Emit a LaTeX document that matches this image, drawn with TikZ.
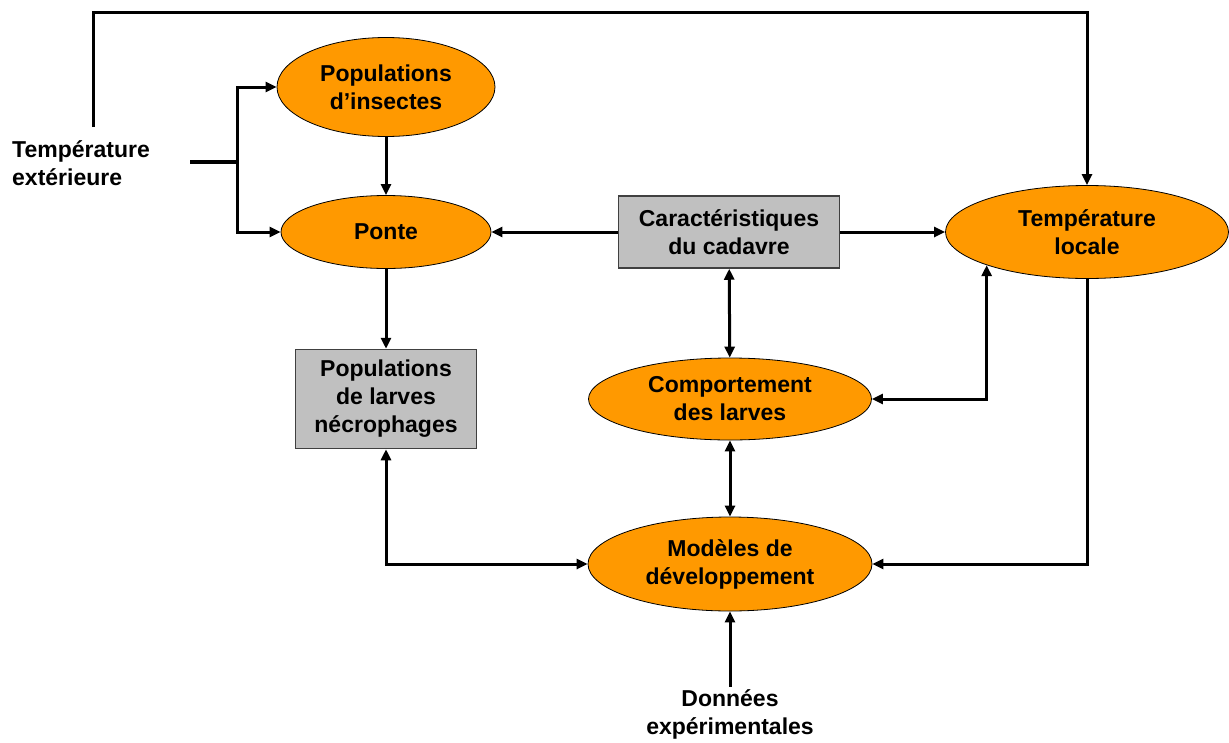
\documentclass[tikz,border=0pt]{standalone}
\usepackage{fontspec}
\setmainfont{Liberation Sans}
\usetikzlibrary{shapes.geometric,arrows.meta}
\definecolor{orangebulle}{RGB}{255,153,0}
\definecolor{grisboite}{RGB}{192,192,192}
\tikzstyle{bulle} = [ellipse,
inner sep=0pt,
text centered,
align=center,
draw=black,
line width=0.8pt,
fill=orangebulle,
font=\bfseries\fontsize{23}{28}\selectfont]
\tikzstyle{boite} = [rectangle,
inner sep=0pt,
text centered,
align=center,
draw=black!75,
line width=1.5pt,
fill=grisboite,
font=\bfseries\fontsize{23}{28}\selectfont]
\tikzstyle{texte} = [inner sep=2pt, font=\bfseries\fontsize{23}{28}\selectfont]
\tikzstyle{arrow} = [line width=3pt,-{Triangle[length=11pt,width=10pt]}]
\tikzstyle{dblarrow} = [line width=3pt,{Triangle[length=11pt,width=10pt]}-{Triangle[length=11pt,width=10pt]}]
\tikzstyle{trait} = [line width=4pt]

\begin{document}
\begin{tikzpicture}[x=1pt,y=-1pt]
				\useasboundingbox (0,0) rectangle (1229,742);

				\node[bulle, minimum width=218pt, minimum height=99pt] (popins) at (386,87) {Populations\\d’insectes};
				\node[bulle, minimum width=210pt, minimum height=73pt] (ponte) at (386,232) {Ponte};
				\node[boite, minimum width=181pt, minimum height=99pt] (larves) at (386,399) {Populations\\de larves\\nécrophages};
				\node[boite, minimum width=221pt, minimum height=72pt] (carac) at (729,232) {Caractéristiques\\du cadavre};
				\node[bulle, minimum width=283pt, minimum height=93pt] (temploc) at (1087,232) {Température\\locale};
				\node[bulle, minimum width=283pt, minimum height=82pt] (comport) at (730,399) {Comportement\\des larves};
				\node[bulle, minimum width=284pt, minimum height=94pt] (modeles) at (730,564) {Modèles de\\développement};
				\node[texte, anchor=west, align=left] (tempext) at (10,163) {Température\\extérieure};
				\node[texte, align=center] (donnees) at (730,714) {Données\\expérimentales};

				\coordinate (depart) at (190,162);
				\coordinate (noeud) at (237,162);
				\coordinate (haut) at (93,127);
				\coordinate (coin) at (93,12);

				\draw[trait] (depart) -- (noeud);
				\draw[arrow] (noeud) |- (popins);
				\draw[arrow] (noeud) |- (ponte);
				\draw[arrow] (haut) -- (coin) -| (temploc.north);
				\draw[arrow] (popins) -- (ponte);
				\draw[arrow] (ponte) -- (larves);
				\draw[arrow] (carac) -- (ponte);
				\draw[arrow] (carac) -- (temploc);
				\draw[dblarrow] (carac) -- (comport);
				\draw[dblarrow] (comport) -- (modeles);
				\draw[dblarrow] (comport.east) -| (temploc.south west);
				\draw[arrow] (temploc.south) |- (modeles.east);
				\draw[dblarrow] (larves.south) |- (modeles.west);
				\draw[arrow] (donnees.north) -- (modeles.south);
			\end{tikzpicture}
\end{document}
